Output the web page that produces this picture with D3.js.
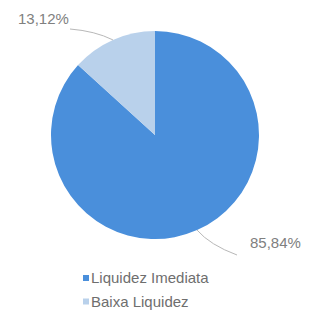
<!DOCTYPE html>
<html>
<head>
<meta charset="utf-8">
<script src="https://cdn.jsdelivr.net/npm/d3@7"></script>
<style>
body { margin: 0; background: #fff; }
text { font-family: "Liberation Sans", Arial, sans-serif; }
</style>
</head>
<body>
<div id="chart"></div>
<script>
var categories = ["Liquidez Imediata", "Baixa Liquidez"];
var values = [85.84, 13.12];
var labels = ["85,84%", "13,12%"];
var colors = ["#4a8fdb", "#b9d1eb"];

var widthPage = 317;
var heightPage = 315;
var cx = 155, cy = 135, radius = 104;

var svg = d3.select("#chart").append("svg").attr("width", widthPage).attr("height", heightPage);
var pieGroup = svg.append("g").attr("transform", `translate(${cx},${cy})`);

var pie = d3.pie().sort(null).value(function(d){ return d; });
var arcs = pie(values);
var arc = d3.arc().innerRadius(0).outerRadius(radius);

pieGroup.selectAll("path.slice").data(arcs).enter().append("path")
    .attr("class", "slice")
    .attr("d", arc)
    .attr("fill", function(d, i){ return colors[i]; });

// leader lines + labels
var edgeArc = d3.arc().innerRadius(radius).outerRadius(radius);
var labelOffsets = [
    {end: [82, 120], ctrl: [55, 110], tx: 95, ty: 113},
    {end: [-85, -106], ctrl: [-60, -104], tx: -137, ty: -111}
];
arcs.forEach(function(d, i){
    var p = edgeArc.centroid(d);
    var o = labelOffsets[i];
    pieGroup.append("path")
        .attr("d", `M${p[0]},${p[1]} Q${o.ctrl[0]},${o.ctrl[1]} ${o.end[0]},${o.end[1]}`)
        .attr("fill", "none")
        .attr("stroke", "#b8b8b8")
        .attr("stroke-width", 1);
    pieGroup.append("text")
        .attr("x", o.tx).attr("y", o.ty)
        .attr("font-size", "15px")
        .attr("fill", "#808080")
        .text(labels[i]);
});

// legend
var legend = svg.append("g").attr("transform", "translate(83,283)");
categories.forEach(function(c, i){
    var row = legend.append("g").attr("transform", `translate(0,${i * 23.5})`);
    row.append("rect").attr("x", 0).attr("y", -8).attr("width", 6).attr("height", 6).attr("fill", colors[i]);
    row.append("text").attr("x", 8).attr("y", 0)
        .attr("font-size", "15px").attr("fill", "#6e6e6e").text(c);
});
</script>
</body>
</html>
